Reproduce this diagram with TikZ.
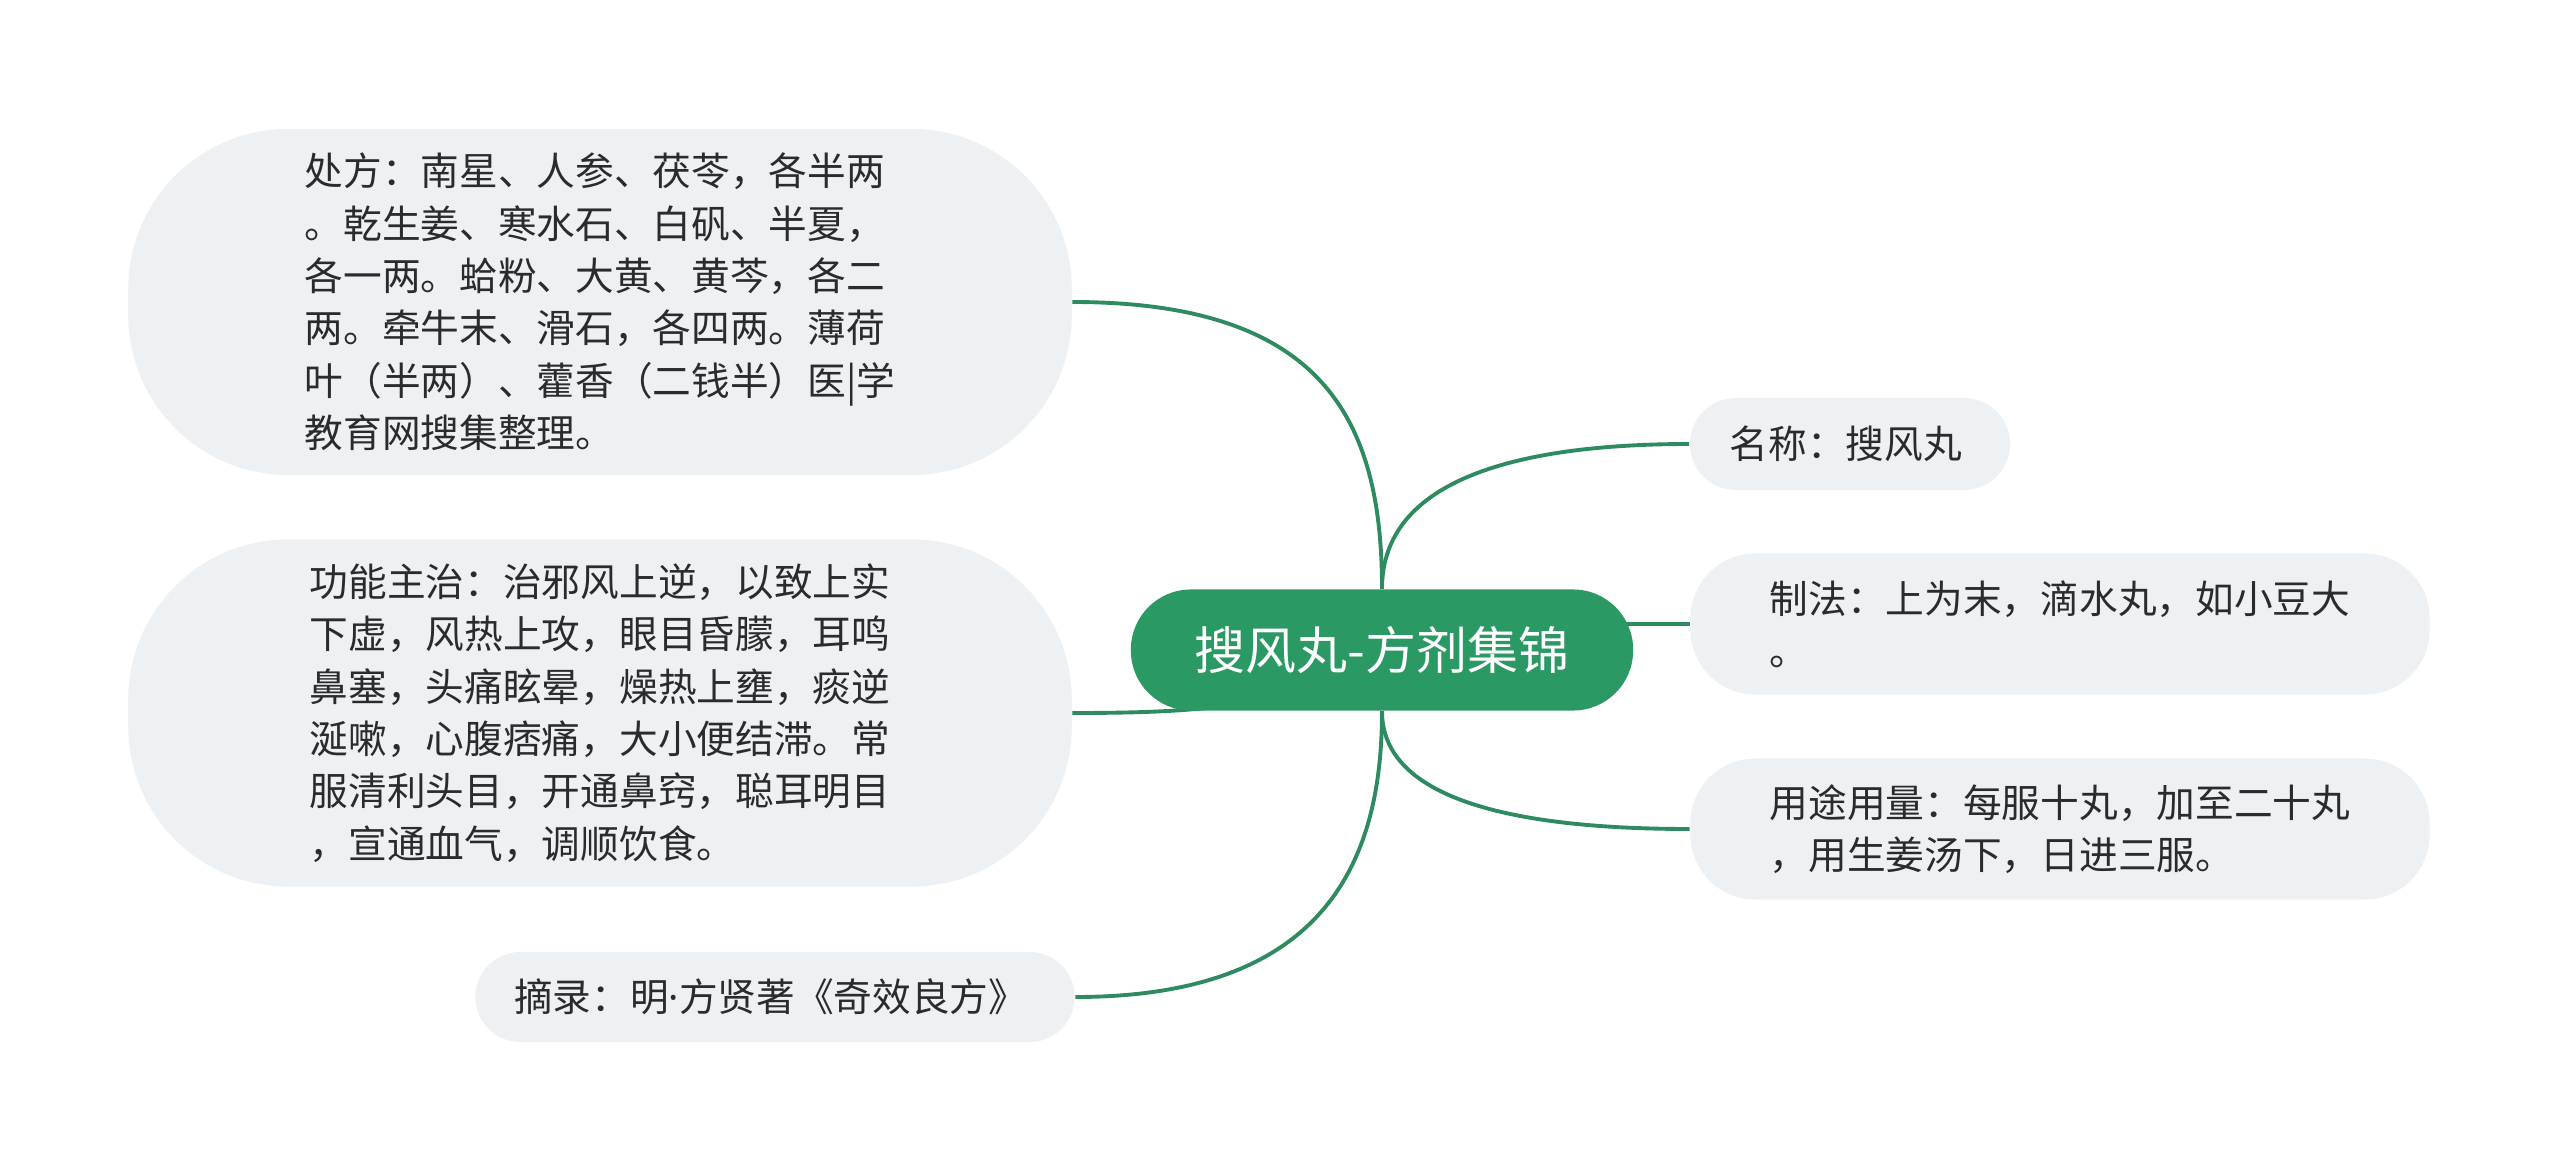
\documentclass[tikz,border=0pt]{standalone}
\usepackage{fontspec}
\setmainfont{Noto Sans CJK SC}
\newfontfamily\latinfont{Noto Sans}
\usetikzlibrary{backgrounds}

\definecolor{rootgreen}{HTML}{2A9964}
\definecolor{linkgreen}{HTML}{2E8B5F}
\definecolor{topicfill}{HTML}{EEF1F4}
\definecolor{textgray}{HTML}{2B2B2B}

\begin{document}
\begin{tikzpicture}[
    x=0.01cm, y=-0.01cm,
    topic/.style={fill=topicfill, align=left, inner sep=0pt, text=textgray,
                  font=\fontsize{11}{14.9}\selectfont},
    root/.style={fill=rootgreen, rounded corners=0.6cm, minimum width=5.02cm,
                 minimum height=1.21cm, text=white, inner sep=0pt,
                 font=\fontsize{14.5}{17}\selectfont},
    link/.style={draw=linkgreen, line width=1.1pt}
]
    \useasboundingbox (0,0) rectangle (2560,1170);

    % Root
    \node[root] (root) at (1382,650) {搜风丸-方剂集锦};

    % Left side
    \node[topic, minimum width=9.43cm, minimum height=3.46cm, rounded corners=1.6cm] (chufang) at (600,302) {
        处方：南星、人参、茯苓，各半两\\
        。乾生姜、寒水石、白矾、半夏，\\
        各一两。蛤粉、大黄、黄芩，各二\\
        两。牵牛末、滑石，各四两。薄荷\\
        叶（半两）、藿香（二钱半）医|学\\
        教育网搜集整理。
    };

    \node[topic, minimum width=9.43cm, minimum height=3.47cm, rounded corners=1.6cm] (gongneng) at (600,713) {
        功能主治：治邪风上逆，以致上实\\
        下虚，风热上攻，眼目昏朦，耳鸣\\
        鼻塞，头痛眩晕，燥热上壅，痰逆\\
        涎嗽，心腹痞痛，大小便结滞。常\\
        服清利头目，开通鼻窍，聪耳明目\\
        ，宣通血气，调顺饮食。
    };

    \node[topic, minimum width=5.99cm, minimum height=0.9cm, rounded corners=0.45cm] (zhailu) at (775,997) {
        摘录：明{\latinfont ·}方贤著《奇效良方》
    };

    % Right side
    \node[topic, minimum width=3.2cm, minimum height=0.92cm, rounded corners=0.46cm] (mingcheng) at (1850,444) {
        名称：搜风丸
    };

    \node[topic, minimum width=7.39cm, minimum height=1.41cm, rounded corners=0.65cm] (zhifa) at (2060,624) {
        制法：上为末，滴水丸，如小豆大\\
        。
    };

    \node[topic, minimum width=7.39cm, minimum height=1.41cm, rounded corners=0.65cm] (yongtu) at (2060,829) {
        用途用量：每服十丸，加至二十丸\\
        ，用生姜汤下，日进三服。
    };

    \coordinate (gnEnd) at (1290,702);

    % Connectors
    \begin{scope}[on background layer]
        \fill[white] (0,0) rectangle (2560,1170);
        \draw[link] (chufang.east) .. controls +(250,0) and +(0,-170) .. (root.north);
        \draw[link] (gongneng.east) .. controls +(130,0) and +(-90,4) .. (gnEnd);
        \draw[link] (zhailu.east) .. controls +(250,0) and +(0,150) .. (root.south);
        \draw[link] (root.north) .. controls +(0,-110) and +(-170,0) .. (mingcheng.west);
        \draw[link] (root.center |- zhifa.west) -- (zhifa.west);
        \draw[link] (root.south) .. controls +(0,90) and +(-170,0) .. (yongtu.west);
    \end{scope}
\end{tikzpicture}
\end{document}
